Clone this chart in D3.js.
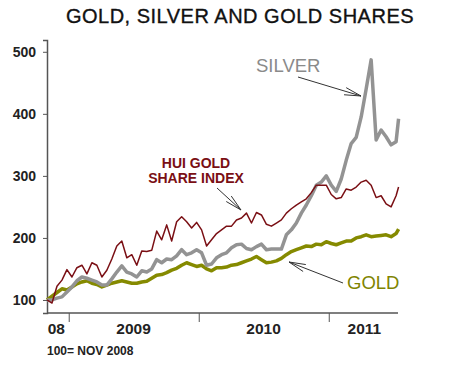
<!DOCTYPE html>
<html><head><meta charset="utf-8">
<script src="https://cdn.jsdelivr.net/npm/d3@7"></script>
<style>body{margin:0;background:#fff}svg{display:block}</style>
</head><body>
<script>
// Bi-weekly dates, Nov 2008 – Jul 2011
const dates = ["2008-11-01","2008-11-15","2008-11-29","2008-12-13","2008-12-27",
"2009-01-10","2009-01-24","2009-02-07","2009-02-21","2009-03-07","2009-03-21","2009-04-04","2009-04-18","2009-05-02","2009-05-16","2009-05-30","2009-06-13","2009-06-27","2009-07-11","2009-07-25","2009-08-08","2009-08-22","2009-09-05","2009-09-19","2009-10-03","2009-10-17","2009-10-31","2009-11-14","2009-11-28","2009-12-12","2009-12-26",
"2010-01-09","2010-01-23","2010-02-06","2010-02-20","2010-03-06","2010-03-20","2010-04-03","2010-04-17","2010-05-01","2010-05-15","2010-05-29","2010-06-12","2010-06-26","2010-07-10","2010-07-24","2010-08-07","2010-08-21","2010-09-04","2010-09-18","2010-10-02","2010-10-16","2010-10-30","2010-11-13","2010-11-27","2010-12-11","2010-12-25",
"2011-01-08","2011-01-22","2011-02-05","2011-02-19","2011-03-05","2011-03-19","2011-04-02","2011-04-16","2011-04-30","2011-05-14","2011-05-28","2011-06-11","2011-06-25","2011-07-09","2011-07-16"];

const hui = [100,95,122,132,149,137,152,156,142,160,156,137,148,166,187,195,168,173,156,179,178,180,211,197,221,195,226,234,226,216,225,213,187,197,207,213,219,219,229,232,240,224,241,237,222,219,224,229,240,247,253,258,263,273,285,285,285,270,263,265,279,277,282,290,293,285,265,268,255,250,268,282];

const silver = [100,100,103,105,113,121,131,137,135,132,129,124,124,134,145,155,145,142,137,147,145,150,165,160,166,165,171,181,173,176,181,176,156,158,168,173,176,184,189,190,183,181,186,190,181,182,182,182,205,213,224,240,253,268,285,290,300,285,275,295,325,352,362,395,440,487,358,374,363,350,355,392];

const gold = [100,106,112,118,116,121,126,129,131,127,125,121,124,127,129,131,129,127,127,129,130,135,140,141,144,148,151,156,160,157,154,156,150,147,152,152,153,156,157,160,163,166,170,165,160,161,163,167,173,178,181,184,187,186,190,189,194,191,189,192,195,195,200,202,205,202,203,204,205,202,207,214];

const yTicks = [100,200,300,400,500];
const xTickDates = ["2009-01-01","2010-01-01","2011-01-01"];
const xLabels = [{t:"08",d:"2008-11-27"},{t:"2009",d:"2009-07-02"},{t:"2010",d:"2010-07-02"},{t:"2011",d:"2011-04-11"}];

const W = 450, H = 382;
const svg = d3.select("body").append("svg").attr("width",W).attr("height",H)
  .style("font-family","'Liberation Sans', Arial, sans-serif");

const parse = d3.utcParse("%Y-%m-%d");
const x = d3.scaleUtc().domain([parse("2008-11-01"), parse("2011-07-20")]).range([47, 400]);
const y = d3.scaleLinear().domain([79, 519]).range([313, 40]);

// Title
svg.append("text").attr("x",240).attr("y",23).attr("text-anchor","middle")
  .attr("font-size",20).attr("fill","#111").attr("stroke","#111").attr("stroke-width",0.35)
  .style("letter-spacing","0.5px")
  .text("GOLD, SILVER AND GOLD SHARES");

// Y axis
const yAxis = d3.axisLeft(y).tickValues(yTicks).tickSize(4).tickPadding(7);
const gy = svg.append("g").attr("transform","translate(47,0)").call(yAxis);
gy.select(".domain").attr("stroke","#555").attr("stroke-width",1.5);
gy.selectAll(".tick line").attr("stroke","#555");
gy.selectAll(".tick text").attr("font-size",14).attr("font-weight","bold").attr("fill","#222")
  .attr("font-family","'Liberation Sans', Arial, sans-serif");

// X axis
const xAxis = d3.axisBottom(x).tickValues(xTickDates.map(parse)).tickSize(9).tickFormat("");
const gx = svg.append("g").attr("transform","translate(0,313)").call(xAxis);
gx.select(".domain").attr("stroke","#555").attr("stroke-width",1.5).attr("d","M47,0H398");
gx.selectAll(".tick line").attr("stroke","#555");
svg.append("g").selectAll("text").data(xLabels).join("text")
  .attr("x",d=>x(parse(d.d))).attr("y",334).attr("text-anchor","middle")
  .attr("font-size",15.5).attr("font-weight","bold").attr("fill","#222")
  .text(d=>d.t);

// Lines
const mk = vals => dates.map((d,i)=>({d:parse(d), v:vals[i]}));
const line = d3.line().x(d=>x(d.d)).y(d=>y(d.v));
svg.append("path").datum(mk(gold)).attr("d",line).attr("fill","none")
  .attr("stroke","#858a00").attr("stroke-width",3.5).attr("stroke-linejoin","round");
svg.append("path").datum(mk(silver)).attr("d",line).attr("fill","none")
  .attr("stroke","#939393").attr("stroke-width",3.5).attr("stroke-linejoin","round");
svg.append("path").datum(mk(hui)).attr("d",line).attr("fill","none")
  .attr("stroke","#7a0f14").attr("stroke-width",1.5).attr("stroke-linejoin","round");

// Arrows (open heads)
function arrow(x1,y1,x2,y2){
  const g = svg.append("g").attr("stroke","#333").attr("stroke-width",1).attr("fill","none");
  g.append("line").attr("x1",x1).attr("y1",y1).attr("x2",x2).attr("y2",y2);
  const a = Math.atan2(y2-y1,x2-x1), L=17, s=0.22;
  [a+Math.PI-s, a+Math.PI+s].forEach(b=>{
    g.append("line").attr("x1",x2).attr("y1",y2)
      .attr("x2",x2+L*Math.cos(b)).attr("y2",y2+L*Math.sin(b));
  });
}
arrow(298,77,361,96);
arrow(217,188,241,210);
arrow(343,283,289,262);

// Labels
svg.append("text").attr("x",256).attr("y",72).attr("font-size",18.5).attr("fill","#8a8a8a").text("SILVER");
svg.append("text").attr("x",196).attr("y",168).attr("text-anchor","middle").attr("font-size",14)
  .attr("font-weight","bold").attr("fill","#7a0f14").text("HUI GOLD");
svg.append("text").attr("x",196).attr("y",183).attr("text-anchor","middle").attr("font-size",14)
  .attr("font-weight","bold").attr("fill","#7a0f14").text("SHARE INDEX");
svg.append("text").attr("x",347).attr("y",289).attr("font-size",18.5).attr("fill","#808400").text("GOLD");

// Footnote
svg.append("text").attr("x",47).attr("y",355).attr("font-size",12).attr("font-weight","bold")
  .attr("fill","#222").text("100= NOV 2008");
</script>
</body></html>
